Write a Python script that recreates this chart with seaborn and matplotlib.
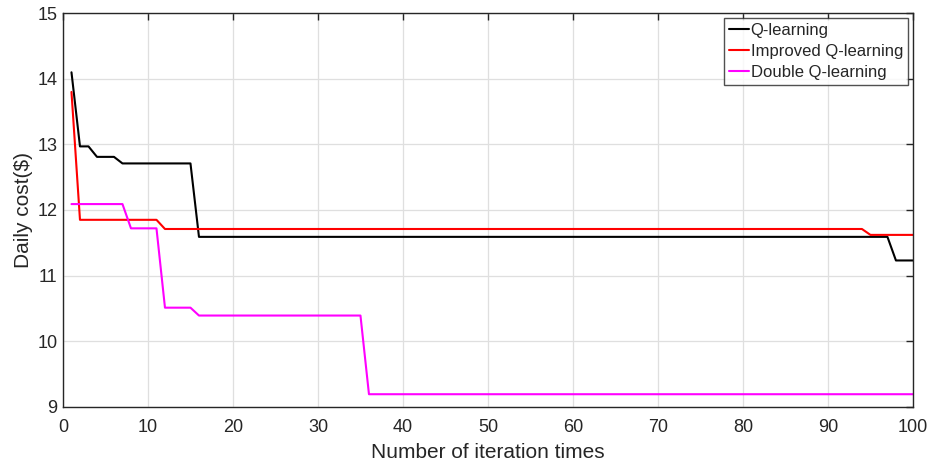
import matplotlib
matplotlib.use("Agg")
import matplotlib.pyplot as plt
import pandas as pd
import seaborn as sns

# breakpoints of each curve (iteration, daily cost)
q_iter = [1, 2, 3, 4, 6, 7, 15, 16, 97, 98, 100]
q_cost = [14.1, 12.97, 12.97, 12.81, 12.81, 12.71, 12.71, 11.59, 11.59, 11.23, 11.23]

iq_iter = [1, 2, 11, 12, 94, 95, 100]
iq_cost = [13.8, 11.85, 11.85, 11.71, 11.71, 11.62, 11.62]

dq_iter = [1, 7, 8, 11, 12, 15, 16, 35, 36, 100]
dq_cost = [12.09, 12.09, 11.72, 11.72, 10.51, 10.51, 10.39, 10.39, 9.19, 9.19]

labels = ["Q-learning", "Improved Q-learning", "Double Q-learning"]
colors = ["black", "#ff0000", "#ff00ff"]

x_ticks = [0, 10, 20, 30, 40, 50, 60, 70, 80, 90, 100]
y_ticks = [9, 10, 11, 12, 13, 14, 15]

df = pd.concat([
    pd.DataFrame({"iter": q_iter, "cost": q_cost, "method": labels[0]}),
    pd.DataFrame({"iter": iq_iter, "cost": iq_cost, "method": labels[1]}),
    pd.DataFrame({"iter": dq_iter, "cost": dq_cost, "method": labels[2]}),
], ignore_index=True)

sns.set_style("white")
plt.rcParams["font.family"] = ["Liberation Sans", "DejaVu Sans"]

fig = plt.figure(figsize=(9.33, 4.66), dpi=100)
ax = fig.add_axes([0.0675, 0.1273, 0.911, 0.8442])

sns.lineplot(data=df, x="iter", y="cost", hue="method", hue_order=labels,
             palette=colors, linewidth=1.5, sort=False, estimator=None, ax=ax)

ax.set_xlim(0, 100)
ax.set_ylim(9, 15)
ax.set_xticks(x_ticks)
ax.set_yticks(y_ticks)
ax.grid(True, color="#dfdfdf", linewidth=0.9)
ax.set_axisbelow(True)
ax.tick_params(direction="in", length=5, width=1, colors="#262626", labelsize=13,
               top=True, right=True)
ax.tick_params(axis="x", pad=9)
ax.tick_params(axis="y", pad=4)
for sp in ax.spines.values():
    sp.set_color("#262626")
    sp.set_linewidth(1.0)

ax.set_xlabel("Number of iteration times", fontsize=15, color="#262626", labelpad=5)
ax.set_ylabel("Daily cost($)", fontsize=15, color="#262626", labelpad=3)

leg = ax.legend(loc="upper right", fontsize=12, frameon=True, fancybox=False,
                edgecolor="#262626", handlelength=1.2, handletextpad=0.1,
                borderpad=0.3, labelspacing=0.35, borderaxespad=0.3)
leg.get_frame().set_linewidth(1.0)

fig.savefig("out.png", dpi=100)
